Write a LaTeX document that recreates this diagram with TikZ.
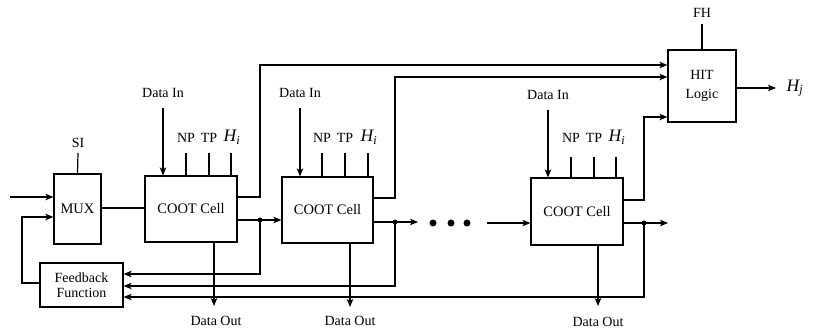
\documentclass[tikz,border=0pt]{standalone}
\usepackage{fontspec}
\setmainfont{Liberation Serif}
\usetikzlibrary{arrows.meta}
\tikzset{
  blk/.style={draw,line width=1.2pt,inner sep=0pt,font=\fontsize{14.5}{15}\selectfont},
  lbl/.style={inner sep=0pt,font=\fontsize{14}{14}\selectfont},
  hl/.style={inner sep=0pt,font=\fontsize{17.5}{17}\selectfont\itshape},
  wire/.style={line width=1.2pt},
  arr/.style={wire,-{Stealth[length=8pt,width=6.5pt,inset=2pt]}},
  jdot/.style={circle,fill,inner sep=0pt,minimum size=5pt},
  bigdot/.style={circle,fill,inner sep=0pt,minimum size=7pt}
}
\begin{document}
\begin{tikzpicture}[x=1pt,y=-1pt]
\useasboundingbox (0,0) rectangle (814,335);
% blocks
\node[blk,minimum width=47pt,minimum height=70pt] (mux) at (77.5,209) {MUX};
\node[blk,minimum width=92pt,minimum height=66pt] (c1) at (191,209) {COOT Cell};
\node[blk,minimum width=91pt,minimum height=66pt] (c2) at (327.5,210) {COOT Cell};
\node[blk,minimum width=92pt,minimum height=67pt] (c3) at (577,211.5) {COOT Cell};
\node[blk,minimum width=68pt,minimum height=72pt,align=center,font=\fontsize{14}{19}\selectfont] (hit) at (702,86) {HIT\\Logic};
\node[blk,minimum width=83pt,minimum height=44pt,align=center,font=\fontsize{14}{15}\selectfont] (fb) at (81.5,285) {Feedback\\Function};
% labels
\node[lbl] (si) at (78,143) {SI};
\node[lbl] (fh) at (702,13) {FH};
\node[lbl] (di1) at (163,93) {Data In};
\node[lbl] (di2) at (300,93) {Data In};
\node[lbl] (di3) at (548,95) {Data In};
\node[lbl] (do1) at (216,321) {Data Out};
\node[lbl] (do2) at (350,321) {Data Out};
\node[lbl] (do3) at (598,322) {Data Out};
\foreach \c/\a/\b/\h/\y in {c1/186/209/231/153, c2/322/345/368/153, c3/571/594/616/157}{
  \node[lbl] at (\a,138) {NP};
  \node[lbl] at (\b,138) {TP};
  \node[hl] at (\h+1,137) {H\textsubscript{i}};
  \draw[wire] (\a,\y) -- (\c.north -| \a,0);
  \draw[wire] (\b,\y) -- (\c.north -| \b,0);
  \draw[wire] (\h,\y) -- (\c.north -| \h,0);
}
\node[hl] (hj) at (795,88) {H\textsubscript{j}};
% SI, FH
\draw[wire] (si.south) ++(0,5) -- (mux.north);
\draw[wire] (fh.south) ++(0,6) -- (hit.north);
% coordinates
\coordinate (in0) at (10,197);
\coordinate (fbl) at (22,283);
\coordinate (j1) at (260,220);
\coordinate (j2) at (395,222);
\coordinate (j3) at (644,223);
\coordinate (u1) at (260,197);
\coordinate (u2) at (395,198);
\coordinate (u3) at (644,200);
% MUX inputs
\draw[arr] (in0) -- (mux.west |- in0);
\draw[arr] (fb.west |- fbl) -- (fbl) -- (22,217) -- (mux.west |- 0,217);
\draw[wire] (mux.east |- 0,208) -- (c1.west |- 0,208);
% data in
\draw[arr] (di1.south) ++(0,10) -- (c1.north -| di1.south);
\draw[arr] (di2.south) ++(0,10) -- (c2.north -| di2.south);
\draw[arr] (di3.south) ++(0,10) -- (c3.north -| di3.south);
% data out
\draw[arr] (c1.south -| 214,0) -- (214,306);
\draw[arr] (c2.south -| 350,0) -- (350,307);
\draw[arr] (c3.south -| 598,0) -- (598,306);
% upper outputs to HIT
\draw[arr] (c1.east |- u1) -- (u1) -- (260,65) -- (hit.west |- 0,65);
\draw[arr] (c2.east |- u2) -- (u2) -- (395,77) -- (hit.west |- 0,77);
\draw[arr] (c3.east |- u3) -- (u3) -- (644,117) -- (hit.west |- 0,117);
% lower outputs
\draw[wire] (c1.east |- j1) -- (j1);
\draw[arr] (j1) -- (c2.west |- j1);
\draw[wire] (c2.east |- j2) -- (j2);
\draw[arr] (j2) -- (418,222);
\node[bigdot] (d1) at (433,223) {};
\node[bigdot] (d2) at (451,223) {};
\node[bigdot] (d3) at (467,223) {};
\draw[arr] (487,223) -- (c3.west |- 0,223);
\draw[wire] (c3.east |- j3) -- (j3);
\draw[arr] (j3) -- (668,223);
% feedback
\draw[arr] (j1) -- (260,274) -- (fb.east |- 0,274);
\draw[arr] (j2) -- (395,286) -- (fb.east |- 0,286);
\draw[arr] (j3) -- (644,297) -- (fb.east |- 0,297);
\node[jdot] at (j1) {};
\node[jdot] at (j2) {};
\node[jdot] at (j3) {};
% HIT output
\draw[arr] (hit.east |- 0,88) -- (hj.west -| 776,0);
\end{tikzpicture}
\end{document}
